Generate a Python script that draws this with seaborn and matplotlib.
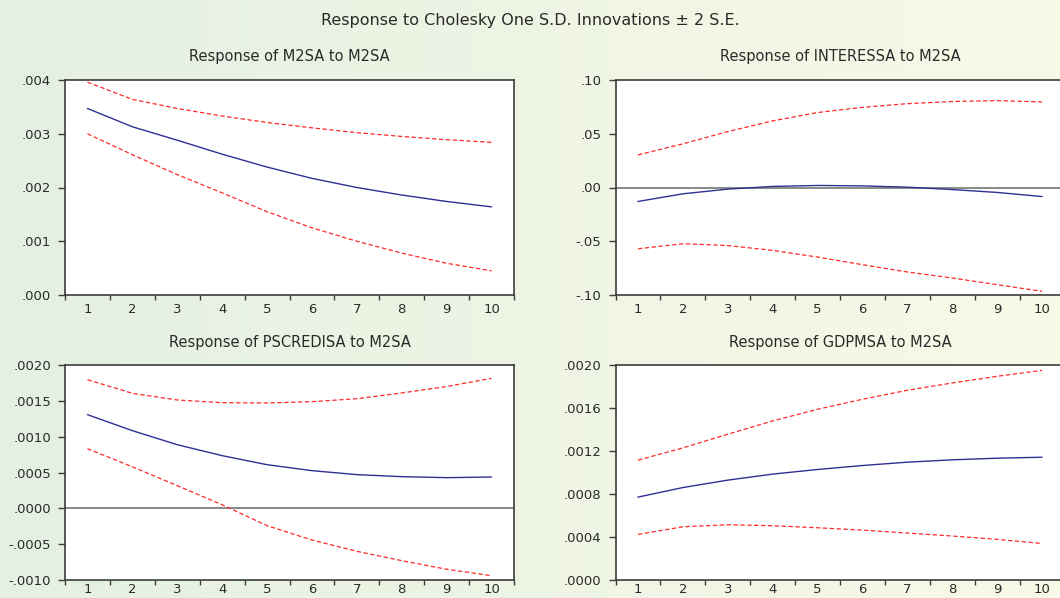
import numpy as np
import pandas as pd
import matplotlib
matplotlib.use("Agg")
import matplotlib.pyplot as plt
import seaborn as sns
from matplotlib.ticker import FixedLocator, FuncFormatter

# ---------------- data ----------------
periods = [1, 2, 3, 4, 5, 6, 7, 8, 9, 10]

m2_mid = [0.00347, 0.00313, 0.00288, 0.00262, 0.00238, 0.00217, 0.00200, 0.00186, 0.00174, 0.00164]
m2_up = [0.00396, 0.00364, 0.00347, 0.00333, 0.00321, 0.00311, 0.00302, 0.00295, 0.00289, 0.00284]
m2_lo = [0.00300, 0.00261, 0.00224, 0.00190, 0.00155, 0.00125, 0.00100, 0.00078, 0.00059, 0.00045]

int_mid = [-0.0130, -0.0059, -0.0015, 0.0010, 0.0019, 0.0015, 0.0003, -0.0019, -0.0046, -0.0084]
int_up = [0.0303, 0.0406, 0.0520, 0.0620, 0.0697, 0.0746, 0.0780, 0.0800, 0.0808, 0.0796]
int_lo = [-0.0570, -0.0523, -0.0540, -0.0585, -0.0647, -0.0718, -0.0786, -0.0842, -0.0904, -0.0966]

ps_mid = [0.001307, 0.001084, 0.000888, 0.000735, 0.000609, 0.000526, 0.000470, 0.000442, 0.000428, 0.000437]
ps_up = [0.001795, 0.001605, 0.001512, 0.001474, 0.001470, 0.001488, 0.001530, 0.001610, 0.001700, 0.001814]
ps_lo = [0.000833, 0.000580, 0.000316, 0.000050, -0.000242, -0.000442, -0.000600, -0.000730, -0.000850, -0.000940]

gdp_mid = [0.000771, 0.000860, 0.000929, 0.000985, 0.001028, 0.001065, 0.001096, 0.001118, 0.001133, 0.001142]
gdp_up = [0.001115, 0.001229, 0.001356, 0.001480, 0.001588, 0.001681, 0.001765, 0.001833, 0.001895, 0.001950]
gdp_lo = [0.000424, 0.000495, 0.000514, 0.000505, 0.000486, 0.000464, 0.000437, 0.000409, 0.000378, 0.000340]

main_title = "Response to Cholesky One S.D. Innovations \u00b1 2 S.E."
panel_titles = ["Response of M2SA to M2SA", "Response of INTERESSA to M2SA",
                "Response of PSCREDISA to M2SA", "Response of GDPMSA to M2SA"]

y_ticks_1 = [0.000, 0.001, 0.002, 0.003, 0.004]
y_ticks_2 = [-0.10, -0.05, 0.00, 0.05, 0.10]
y_ticks_3 = [-0.0010, -0.0005, 0.0000, 0.0005, 0.0010, 0.0015, 0.0020]
y_ticks_4 = [0.0000, 0.0004, 0.0008, 0.0012, 0.0016, 0.0020]
y_dec = [3, 2, 4, 4]

# ---------------- styling ----------------
sns.set_style("ticks")
plt.rcParams['font.family'] = ['DejaVu Sans']

W, H = 1060, 598
fig = plt.figure(figsize=(W / 100, H / 100), dpi=100)

# gradient background (green -> yellow)
bg = fig.add_axes([0, 0, 1, 1], zorder=-10)
c_left = np.array([228, 240, 226]) / 255
c_right = np.array([249, 249, 231]) / 255
t = np.linspace(0, 1, 256)[None, :, None]
grad = c_left[None, None, :] * (1 - t) + c_right[None, None, :] * t
bg.imshow(grad, aspect='auto', extent=[0, 1, 0, 1])
bg.set_axis_off()

BLUE = "#2f2f96"
RED = "#ff2a2a"
SPINE = "#3c3c3c"
TXT = "#2a2a2a"


def box(left_px, top_px, width_px=449, height_px=215):
    return [left_px / W, (H - top_px - height_px) / H, width_px / W, height_px / H]


positions = [box(65, 80), box(615.5, 80), box(65, 365), box(615.5, 365)]
series = [(m2_mid, m2_up, m2_lo), (int_mid, int_up, int_lo),
          (ps_mid, ps_up, ps_lo), (gdp_mid, gdp_up, gdp_lo)]
yticks = [y_ticks_1, y_ticks_2, y_ticks_3, y_ticks_4]
zero_line = [False, True, True, False]
x_pad = [6, 6, 2.5, 2.5]


def make_fmt(dec):
    def f(v, pos):
        s = f"{v:.{dec}f}"
        if s.startswith("-0"):
            s = "-" + s[2:]
        elif s.startswith("0"):
            s = s[1:]
        if s.startswith("-") and float(s) == 0:
            s = s[1:]
        return s
    return f


for i in range(4):
    ax = fig.add_axes(positions[i])
    ax.set_facecolor("white")
    mid, up, lo = series[i]
    df = pd.DataFrame({"period": periods, "mid": mid, "up": up, "lo": lo})
    if zero_line[i]:
        ax.axhline(0, color="#6a6a6a", lw=1.1, zorder=1)
    sns.lineplot(data=df, x="period", y="up", ax=ax, color=RED, lw=0.9,
                 linestyle=(0, (3.5, 2)), zorder=3)
    sns.lineplot(data=df, x="period", y="lo", ax=ax, color=RED, lw=0.9,
                 linestyle=(0, (3.5, 2)), zorder=3)
    sns.lineplot(data=df, x="period", y="mid", ax=ax, color=BLUE, lw=1.0, zorder=4)

    ax.set_xlim(0.5, 10.5)
    ax.set_ylim(yticks[i][0], yticks[i][-1])
    ax.set_xlabel("")
    ax.set_ylabel("")
    ax.xaxis.set_major_locator(FixedLocator(periods))
    ax.xaxis.set_minor_locator(FixedLocator([p + 0.5 for p in range(0, 11)]))
    ax.tick_params(axis='x', which='major', length=0, pad=x_pad[i], labelsize=9.5, labelcolor=TXT)
    ax.tick_params(axis='x', which='minor', length=3.5, width=1.0, color=SPINE, direction='out')
    ax.yaxis.set_major_locator(FixedLocator(yticks[i]))
    ax.yaxis.set_major_formatter(FuncFormatter(make_fmt(y_dec[i])))
    ax.tick_params(axis='y', which='major', length=5, width=1.0, color=SPINE,
                   direction='out', pad=5, labelsize=9.5, labelcolor=TXT)
    for sp in ax.spines.values():
        sp.set_visible(True)
        sp.set_color(SPINE)
        sp.set_linewidth(1.2)

    p = positions[i]
    cx = p[0] + p[2] / 2
    ty = p[1] + p[3] + 23 / H
    fig.text(cx, ty, panel_titles[i], ha='center', va='center', fontsize=10.5, color=TXT)

fig.text(0.5, 1 - 20 / H, main_title, ha='center', va='center', fontsize=11.5, color=TXT)

fig.savefig("out.png", dpi=100)
